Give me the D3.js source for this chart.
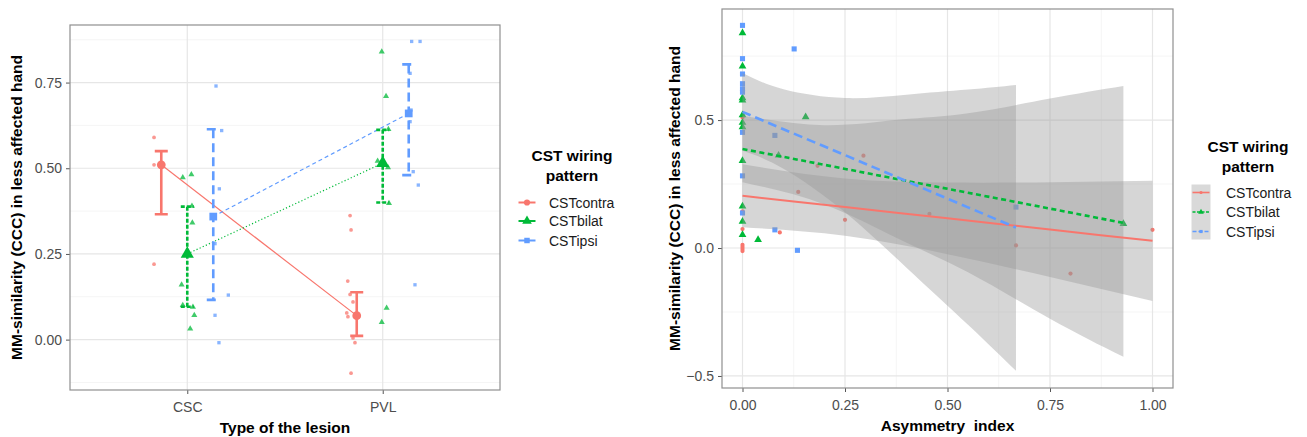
<!DOCTYPE html>
<html><head><meta charset="utf-8">
<script src="https://cdn.jsdelivr.net/npm/d3@7"></script>
<style>body{margin:0;background:#fff}text{font-family:"Liberation Sans",Arial,sans-serif}</style>
</head><body><svg id="c" width="1307" height="437"></svg>
<script>
// ---------- DATA ----------
const groups = ["CSTcontra","CSTbilat","CSTipsi"];
const colors = ["#F8766D","#00BA38","#619CFF"];
const lesionTypes = ["CSC","PVL"];
// left panel: group means and error bars [CSC, PVL]
const meanContra = [0.51, 0.07], lowContra = [0.366, 0.011], highContra = [0.55, 0.138];
const meanBilat  = [0.25, 0.515], lowBilat = [0.096, 0.40], highBilat = [0.388, 0.612];
const meanIpsi   = [0.359, 0.66], lowIpsi = [0.116, 0.48], highIpsi = [0.614, 0.803];
// left panel jittered raw points: [x in category units, value]
const rawContraL = [[0.83,0.59],[0.83,0.51],[0.83,0.22],[1.833,0.362],[1.838,0.32],[1.821,0.171],[1.833,0.132],[1.848,0.11],[1.822,0.067],[1.816,0.078],[1.848,0.005],[1.858,-0.009],[1.838,-0.098]];
const rawBilatL = [[0.977,0.473],[1.021,0.482],[1.026,0.341],[1.024,0.39],[0.971,0.16],[1.029,0.095],[1.036,0.071],[1.015,0.032],[0.977,0.10],[1.995,0.84],[2.017,0.71],[2.029,0.614],[1.974,0.521],[2.027,0.502],[2.032,0.398],[2.02,0.092],[1.995,0.051]];
const rawIpsiL = [[1.147,0.74],[1.176,0.61],[1.164,0.44],[1.142,0.28],[1.21,0.13],[1.142,0.071],[1.162,-0.009],[2.148,0.87],[2.191,0.87],[2.14,0.777],[2.145,0.67],[2.14,0.636],[2.156,0.49],[2.182,0.451],[2.165,0.16]];
// right panel raw points: [asymmetry index, value]
const rawContraR = [[0,0.586],[0,0.51],[0,0.143],[0,0.074],[0,0.012],[0,0.004],[0,-0.004],[0,-0.012],[0.091,0.061],[0.183,0.321],[0.295,0.361],[0.136,0.219],[0.25,0.11],[0.456,0.133],[0.667,0.01],[0.80,-0.1],[1.0,0.071]];
const rawBilatR = [[0,0.84],[0,0.71],[0,0.586],[0,0.577],[0,0.52],[0,0.49],[0,0.473],[0,0.341],[0,0.163],[0,0.104],[0,0.052],[0.038,0.032],[0.154,0.512],[0.088,0.362],[0.929,0.095]];
const rawIpsiR = [[0,0.87],[0,0.74],[0,0.68],[0,0.642],[0,0.622],[0,0.609],[0,0.452],[0,0.282],[0,0.137],[0.079,0.071],[0.126,0.778],[0.079,0.44],[0.134,-0.009],[0.667,0.16]];
// right panel fitted lines and confidence bands
const fitXContra = [0, 0.25, 0.5, 0.75, 1.0];
const fitContra  = [0.204, 0.16, 0.116, 0.072, 0.028];
const upContra   = [0.327, 0.272, 0.256, 0.257, 0.263];
const loContra   = [0.081, 0.048, -0.024, -0.113, -0.207];
const fitXBilat = [0, 0.2, 0.385, 0.55, 0.75, 0.929];
const fitBilat  = [0.387, 0.325, 0.267, 0.216, 0.154, 0.098];
const upBilat   = [0.517, 0.48, 0.502, 0.527, 0.584, 0.633];
const loBilat   = [0.257, 0.17, 0.032, -0.095, -0.276, -0.425];
const fitXIpsi = [0, 0.1, 0.25, 0.4, 0.55, 0.667];
const fitIpsi  = [0.532, 0.464, 0.363, 0.261, 0.159, 0.08];
const upIpsi   = [0.684, 0.62, 0.586, 0.599, 0.619, 0.637];
const loIpsi   = [0.38, 0.31, 0.14, -0.077, -0.30, -0.48];
const yTicksL = [0, 0.25, 0.5, 0.75], yMinorL = [-0.125, 0.125, 0.375, 0.625, 0.875];
const xTicksR = [0, 0.25, 0.5, 0.75, 1.0], xMinorR = [0.125, 0.375, 0.625, 0.875];
const yTicksR = [-0.5, 0, 0.5], yMinorR = [-0.25, 0.25, 0.75];

// ---------- DRAW ----------
const svg = d3.select("#c");
const shapes = [d3.symbolCircle, d3.symbolTriangle, d3.symbolSquare];
const dashLine = [null, "1.2,2.2", "4,3"];
const dashErr = [null, "4,2", "9,5"];
const dashFit = [null, "5,3.5", "9,5"];
const gridMajor = "#e6e6e6", gridMinor = "#f3f3f3", tickCol = "#4d4d4d";

function panelFrame(x, y, xTicks, xMinor, xFmt, yTicks, yMinor, yFmt, xLabel, yLabel, yLabelX) {
  const [x0, x1] = x.range(), [y1, y0] = y.range();
  const g = svg.append("g");
  yMinor.forEach(v => g.append("line").attr("x1", x0).attr("x2", x1).attr("y1", y(v)).attr("y2", y(v)).attr("stroke", gridMinor).attr("stroke-width", 0.8));
  xMinor.forEach(v => g.append("line").attr("y1", y0).attr("y2", y1).attr("x1", x(v)).attr("x2", x(v)).attr("stroke", gridMinor).attr("stroke-width", 0.8));
  yTicks.forEach(v => g.append("line").attr("x1", x0).attr("x2", x1).attr("y1", y(v)).attr("y2", y(v)).attr("stroke", gridMajor).attr("stroke-width", 1.2));
  xTicks.forEach(v => g.append("line").attr("y1", y0).attr("y2", y1).attr("x1", x(v)).attr("x2", x(v)).attr("stroke", gridMajor).attr("stroke-width", 1.2));
  const ax = svg.append("g").attr("transform", `translate(0,${y1})`).call(d3.axisBottom(x).tickValues(xTicks).tickFormat(xFmt).tickSize(4).tickPadding(8));
  const ay = svg.append("g").attr("transform", `translate(${x0},0)`).call(d3.axisLeft(y).tickValues(yTicks).tickFormat(yFmt).tickSize(4).tickPadding(4));
  [ax, ay].forEach(a => { a.select(".domain").remove(); a.selectAll("line").attr("stroke", "#555"); a.selectAll("text").attr("fill", tickCol).attr("font-size", 14); });
  svg.append("text").attr("x", (x0 + x1) / 2).attr("y", y1 + 43).attr("text-anchor", "middle").attr("font-size", 15.5).attr("font-weight", "bold").style("white-space", "pre").text(xLabel);
  svg.append("text").attr("transform", `translate(${yLabelX},${(y0 + y1) / 2}) rotate(-90)`).attr("text-anchor", "middle").attr("font-size", 15.5).attr("font-weight", "bold").text(yLabel);
  return g;
}
function border(x, y) {
  const [x0, x1] = x.range(), [y1, y0] = y.range();
  svg.append("rect").attr("x", x0).attr("y", y0).attr("width", x1 - x0).attr("height", y1 - y0).attr("fill", "none").attr("stroke", "#8f8f8f").attr("stroke-width", 1.2);
}
function legend(cx, top, keyX, labelX, rowY, bg, keyDash, keyWidth, symSize) {
  svg.append("text").attr("x", cx).attr("y", top).attr("text-anchor", "middle").attr("font-size", 15.5).attr("font-weight", "bold").text("CST wiring");
  svg.append("text").attr("x", cx).attr("y", top + 19.5).attr("text-anchor", "middle").attr("font-size", 15.5).attr("font-weight", "bold").text("pattern");
  if (bg) svg.append("rect").attr("x", keyX - 9.5).attr("y", rowY[0] - 8).attr("width", 19).attr("height", rowY[2] - rowY[0] + 16).attr("fill", "#d9d9d9");
  groups.forEach((gname, i) => {
    svg.append("line").attr("x1", keyX - 8.5).attr("x2", keyX + 8.5).attr("y1", rowY[i]).attr("y2", rowY[i]).attr("stroke", colors[i]).attr("stroke-width", keyWidth[i]).attr("stroke-dasharray", keyDash[i]);
    svg.append("path").attr("d", d3.symbol().type(shapes[i]).size(symSize[i])()).attr("transform", `translate(${keyX},${rowY[i]})`).attr("fill", colors[i]);
    svg.append("text").attr("x", labelX).attr("y", rowY[i] + 5).attr("font-size", 14).attr("fill", "#1a1a1a").text(gname);
  });
}

// ---- Left panel ----
const xL = d3.scaleLinear().domain([0.4, 2.6]).range([70, 500]);
const yL = d3.scaleLinear().domain([-0.147, 0.918]).range([390, 25]);
panelFrame(xL, yL, [1, 2], [], (d, i) => lesionTypes[i], yTicksL, yMinorL, d3.format(".2f"), "Type of the lesion", "MM-similarity (CCC) in less affected hand", 22);
const dodge = [-0.133, 0, 0.133];
const means = [meanContra, meanBilat, meanIpsi], lows = [lowContra, lowBilat, lowIpsi], highs = [highContra, highBilat, highIpsi];
const rawL = [rawContraL, rawBilatL, rawIpsiL];
const gL = svg.append("g");
rawL.forEach((pts, i) => pts.forEach(p => gL.append("path").attr("d", d3.symbol().type(shapes[i]).size(i === 1 ? 16 : 11)()).attr("transform", `translate(${xL(p[0])},${yL(p[1])})`).attr("fill", colors[i]).attr("opacity", 0.75)));
groups.forEach((gname, i) => {
  // connecting line between lesion types
  const pts = lesionTypes.map((t, k) => [xL(k + 1 + dodge[i]), yL(means[i][k])]);
  gL.append("path").attr("d", d3.line()(pts)).attr("fill", "none").attr("stroke", colors[i]).attr("stroke-width", 1.2).attr("stroke-dasharray", dashLine[i]);
});
groups.forEach((gname, i) => {
  lesionTypes.forEach((t, k) => {
    const cx = xL(k + 1 + dodge[i]), half = 6.5;
    const yt = yL(highs[i][k]), yb = yL(lows[i][k]);
    const d = `M${cx - half},${yt}H${cx + half}M${cx},${yt}V${yb}M${cx - half},${yb}H${cx + half}`;
    gL.append("path").attr("d", d).attr("fill", "none").attr("stroke", colors[i]).attr("stroke-width", 2.6).attr("stroke-dasharray", dashErr[i]);
    gL.append("path").attr("d", d3.symbol().type(shapes[i]).size(i === 1 ? 75 : 60)()).attr("transform", `translate(${cx},${yL(means[i][k])})`).attr("fill", colors[i]);
  });
});
border(xL, yL);
legend(572, 161, 527, 549, [202.5, 221, 240.5], false, [null, null, null], [2, 2, 2], [30, 40, 30]);

// ---- Right panel ----
const xR = d3.scaleLinear().domain([-0.05, 1.05]).range([722, 1173]);
const yR = d3.scaleLinear().domain([-0.547, 0.934]).range([388, 9]);
panelFrame(xR, yR, xTicksR, xMinorR, d3.format(".2f"), yTicksR, yMinorR, d3.format(".1f"), "Asymmetry  index", "MM-similarity (CCC) in less affected hand", 680);
const gR = svg.append("g");
const rawR = [rawContraR, rawBilatR, rawIpsiR];
rawR.forEach((pts, i) => pts.forEach(p => gR.append("path").attr("d", d3.symbol().type(shapes[i]).size(i === 0 ? 14 : 26)()).attr("transform", `translate(${xR(p[0])},${yR(p[1])})`).attr("fill", colors[i])));
const fitX = [fitXContra, fitXBilat, fitXIpsi], fitY = [fitContra, fitBilat, fitIpsi], ups = [upContra, upBilat, upIpsi], los = [loContra, loBilat, loIpsi];
groups.forEach((gname, i) => {
  const rows = fitX[i].map((x, k) => ({x, lo: los[i][k], hi: ups[i][k]}));
  gR.append("path").attr("d", d3.area().curve(d3.curveNatural).x(d => xR(d.x)).y0(d => yR(d.lo)).y1(d => yR(d.hi))(rows)).attr("fill", "#999999").attr("opacity", 0.4);
});
groups.forEach((gname, i) => {
  const rows = fitX[i].map((x, k) => [xR(x), yR(fitY[i][k])]);
  gR.append("path").attr("d", d3.line().curve(d3.curveNatural)(rows)).attr("fill", "none").attr("stroke", colors[i]).attr("stroke-width", i === 0 ? 2 : 2.6).attr("stroke-dasharray", dashFit[i]);
});
border(xR, yR);
legend(1248, 152, 1201, 1226, [192.5, 212, 231.5], true, [null, "3,1.5", "4,2"], [1.6, 1.6, 1.6], [8, 14, 10]);
</script></body></html>
